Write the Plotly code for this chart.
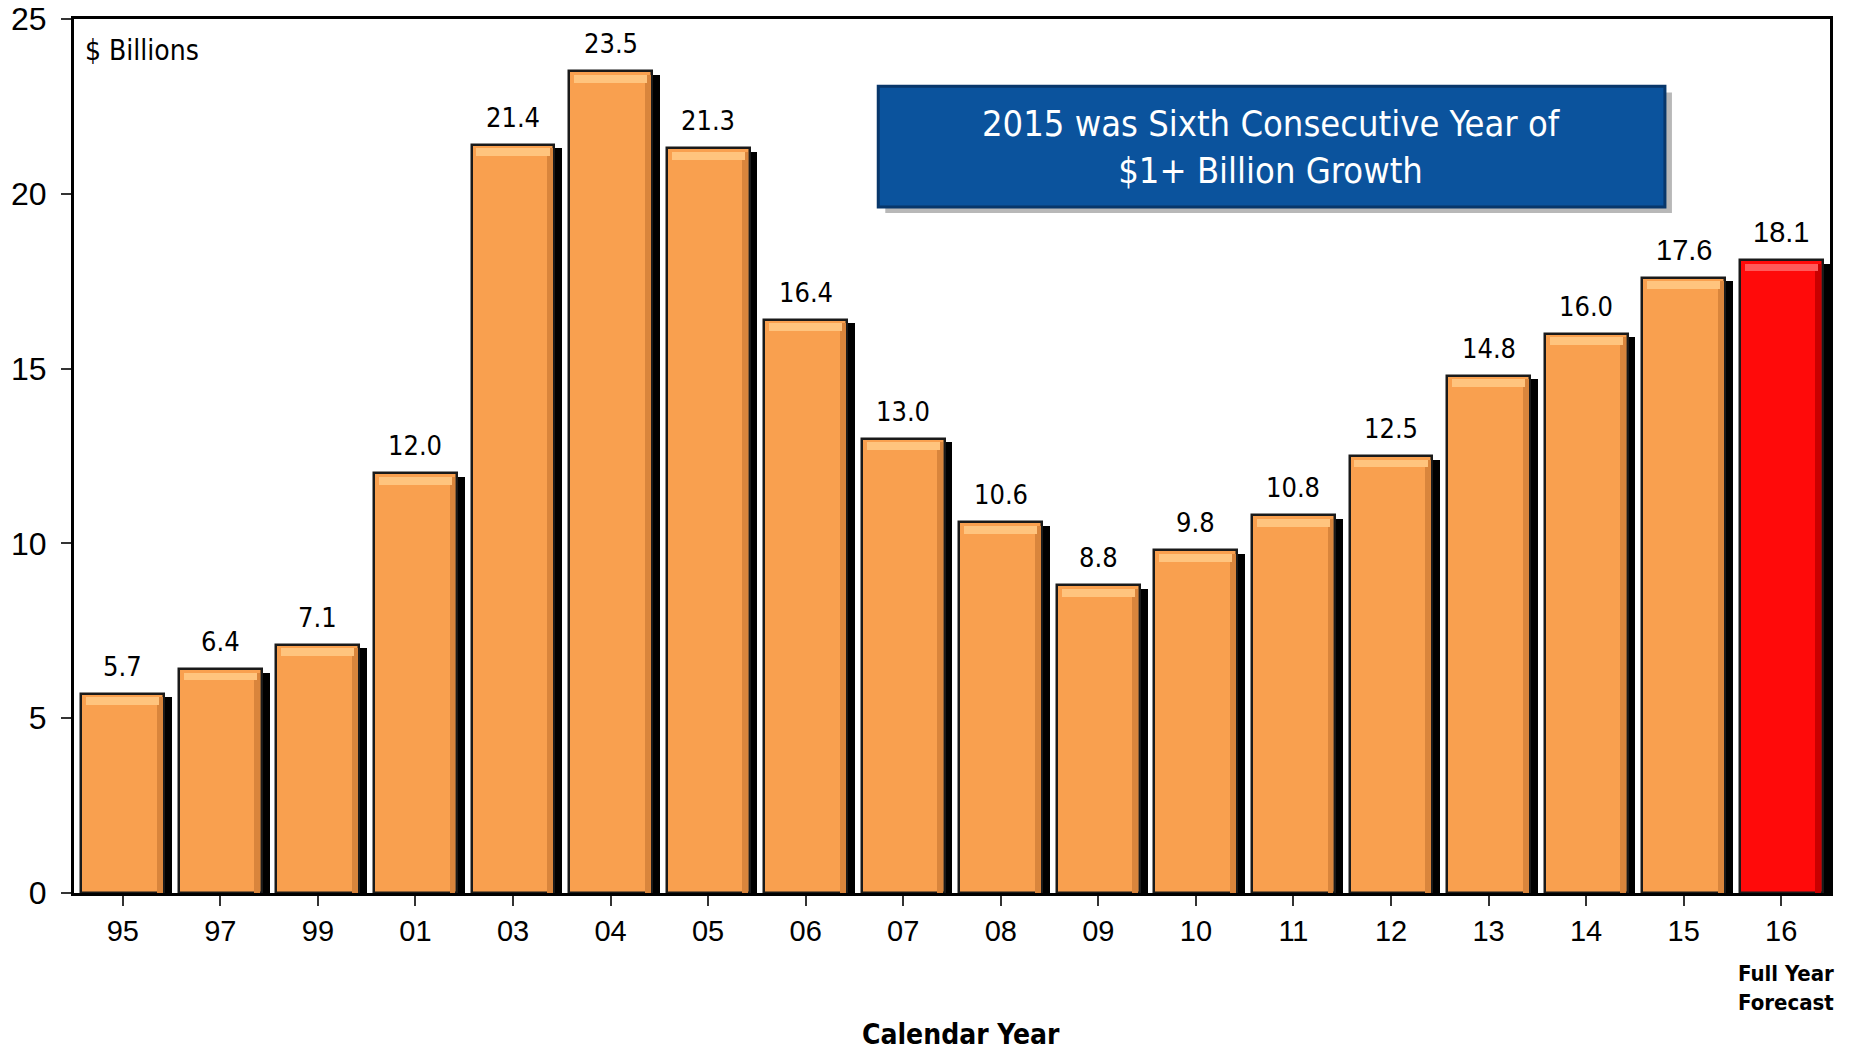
import plotly.graph_objects as go

years = ["95", "97", "99", "01", "03", "04", "05", "06", "07", "08",
         "09", "10", "11", "12", "13", "14", "15", "16"]
values = [5.7, 6.4, 7.1, 12.0, 21.4, 23.5, 21.3, 16.4, 13.0, 10.6,
          8.8, 9.8, 10.8, 12.5, 14.8, 16.0, 17.6, 18.1]
labels = ["5.7", "6.4", "7.1", "12.0", "21.4", "23.5", "21.3", "16.4", "13.0", "10.6",
          "8.8", "9.8", "10.8", "12.5", "14.8", "16.0", "17.6", "18.1"]
forecast_index = 17

NARROW = "DejaVu Sans Condensed, Liberation Sans Narrow, Arial Narrow, sans-serif"
ARIAL = "Liberation Sans, Arial, sans-serif"

ORANGE = "#F9A04F"
ORANGE_LIGHT = "#FFC47E"
ORANGE_DARK = "#D9853C"
RED = "#FF0A0A"
RED_LIGHT = "#FF5A5A"
RED_DARK = "#C80000"

n = len(years)
xs = list(range(n))
main_colors = [RED if i == forecast_index else ORANGE for i in xs]
light_colors = [RED_LIGHT if i == forecast_index else ORANGE_LIGHT for i in xs]
dark_colors = [RED_DARK if i == forecast_index else ORANGE_DARK for i in xs]

W = 0.85
fig = go.Figure()

# drop shadow
fig.add_trace(go.Bar(
    x=xs, y=[v - 0.1 for v in values], width=W, offset=-W / 2 + 0.08,
    marker=dict(color="black", line=dict(width=0)), hoverinfo="skip", showlegend=False))
# main bar
fig.add_trace(go.Bar(
    x=xs, y=values, width=W, offset=-W / 2,
    marker=dict(color=main_colors, line=dict(color="#1a1a1a", width=2.5)),
    showlegend=False))
# right darker edge
fig.add_trace(go.Bar(
    x=xs, y=[v - 0.1 for v in values], width=0.06, offset=W / 2 - 0.075,
    marker=dict(color=dark_colors, line=dict(width=0)), hoverinfo="skip", showlegend=False))
# top bevel highlight
fig.add_trace(go.Bar(
    x=xs, y=[0.22] * n, base=[v - 0.32 for v in values], width=W - 0.1, offset=-W / 2 + 0.05,
    marker=dict(color=light_colors, line=dict(width=0)), hoverinfo="skip", showlegend=False))

annotations = []
for i, (v, lab) in enumerate(zip(values, labels)):
    big = i >= 16
    annotations.append(dict(
        x=i, y=v, xref="x", yref="y", text=lab, showarrow=False,
        yanchor="bottom", yshift=10,
        font=dict(family=ARIAL if big else NARROW, size=29 if big else 27, color="black")))

annotations += [
    dict(x=0.005, y=0.985, xref="paper", yref="paper", text="$ Billions", showarrow=False,
         xanchor="left", yanchor="top", font=dict(family=NARROW, size=28, color="black")),
    dict(x=0.682, y=0.854, xref="paper", yref="paper",
         text="2015 was Sixth Consecutive Year of<br>$1+ Billion Growth", showarrow=False,
         xanchor="center", yanchor="middle", align="center",
         font=dict(family=NARROW, size=36, color="white")),
    dict(x=forecast_index + 0.05, y=-0.076, xref="x", yref="paper", text="<b>Full Year<br>Forecast</b>",
         showarrow=False, xanchor="center", yanchor="top", align="center",
         font=dict(family=NARROW, size=22, color="black")),
    dict(x=0.505, y=-0.162, xref="paper", yref="paper", text="<b>Calendar Year</b>",
         showarrow=False, xanchor="center", yanchor="middle",
         font=dict(family=NARROW, size=28, color="black")),
]

shapes = [
    dict(type="rect", xref="paper", yref="paper", x0=0.462, x1=0.910, y0=0.778, y1=0.916,
         fillcolor="rgba(0,0,0,0.28)", line=dict(width=0), layer="above"),
    dict(type="rect", xref="paper", yref="paper", x0=0.458, x1=0.906, y0=0.785, y1=0.923,
         fillcolor="#0B539D", line=dict(color="#08376B", width=3), layer="above"),
]

fig.update_layout(
    width=1854, height=1050,
    margin=dict(l=74, r=24, t=19, b=157),
    paper_bgcolor="white", plot_bgcolor="white",
    barmode="overlay", bargap=0,
    annotations=annotations, shapes=shapes,
    xaxis=dict(
        tickmode="array", tickvals=xs, ticktext=years, range=[-0.5, n - 0.5],
        ticks="outside", tickson="boundaries", ticklen=10, tickcolor="#333", tickwidth=1.5,
        showline=True, linecolor="black", linewidth=3, mirror=True, automargin=False,
        tickfont=dict(family=ARIAL, size=29, color="black"),
        showgrid=False, zeroline=False),
    yaxis=dict(
        range=[0, 25], tickvals=[0, 5, 10, 15, 20, 25], ticks="outside", ticklen=10,
        tickcolor="#333", tickwidth=1.5, automargin=False, ticklabelstandoff=8,
        showline=True, linecolor="black", linewidth=3, mirror=True,
        tickfont=dict(family=ARIAL, size=32, color="black"),
        showgrid=False, zeroline=False),
)

fig.write_html("out.html")
